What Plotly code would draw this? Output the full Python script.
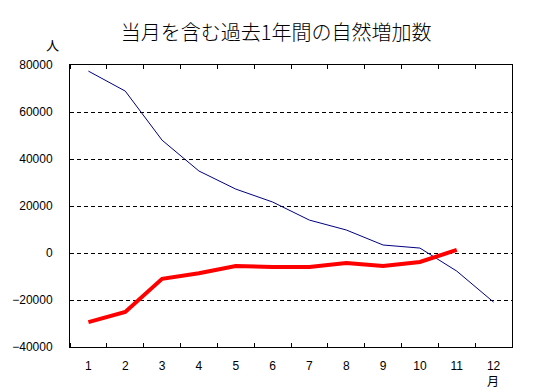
import plotly.graph_objects as go

months = [1, 2, 3, 4, 5, 6, 7, 8, 9, 10, 11, 12]
month_labels = ["1", "2", "3", "4", "5", "6", "7", "8", "9", "10", "11", "12"]
blue_values = [77400, 68900, 48000, 34900, 27200, 21700, 14000, 9800, 3400, 2100, -7700, -20900]
red_months = [1, 2, 3, 4, 5, 6, 7, 8, 9, 10, 11]
red_values = [-29400, -25100, -11000, -8600, -5500, -6000, -6000, -4300, -5500, -3800, 1300]
y_ticks = [-40000, -20000, 0, 20000, 40000, 60000, 80000]

fig = go.Figure()
fig.add_trace(go.Scatter(x=months, y=blue_values, mode="lines",
                         line=dict(color="#000080", width=1), showlegend=False))
fig.add_trace(go.Scatter(x=red_months, y=red_values, mode="lines",
                         line=dict(color="#ff0000", width=4), showlegend=False))

tick_font = dict(family="Liberation Sans, Arial, sans-serif", size=12, color="black")

fig.update_layout(
    width=536, height=388,
    margin=dict(l=67, r=24, t=65, b=41),
    paper_bgcolor="white", plot_bgcolor="white",
    title=dict(text="当月を含む過去1年間の自然増加数", x=0.515, xanchor="center",
               y=1 - 33 / 388, yanchor="middle",
               font=dict(family="Noto Sans CJK JP", size=20, color="black", weight=300)),
    xaxis=dict(range=[0.5, 12.5], tickvals=months, ticktext=month_labels,
               ticks="", showgrid=False, zeroline=False,
               showline=True, linecolor="black", linewidth=1, mirror="all",
               tickfont=tick_font, ticklabelstandoff=8,
               minor=dict(ticks="inside", tick0=0.5, dtick=1, ticklen=4,
                          tickcolor="black", showgrid=False)),
    yaxis=dict(range=[-40000, 80000], tickvals=y_ticks, ticks="",
               showgrid=True, gridcolor="black", gridwidth=1, griddash="4px,3px",
               zeroline=False, showline=True, linecolor="black", linewidth=1, mirror="all",
               tickfont=tick_font, ticklabelstandoff=14, tickformat="d"),
    font=dict(family="Noto Sans CJK JP", color="black"),
)

fig.add_annotation(text="人", xref="paper", yref="paper", x=-0.04, y=1 + 20 / 282,
                   xanchor="center", yanchor="middle", showarrow=False,
                   font=dict(family="Noto Sans CJK JP", size=13, color="black"))
fig.add_annotation(text="月", xref="paper", yref="paper", x=(493 - 67) / 445, y=-33 / 282,
                   xanchor="center", yanchor="middle", showarrow=False,
                   font=dict(family="Noto Sans CJK JP", size=12, color="black"))

fig.write_html("out.html", config={"displayModeBar": False},
               post_script="document.body.style.margin='0';")
